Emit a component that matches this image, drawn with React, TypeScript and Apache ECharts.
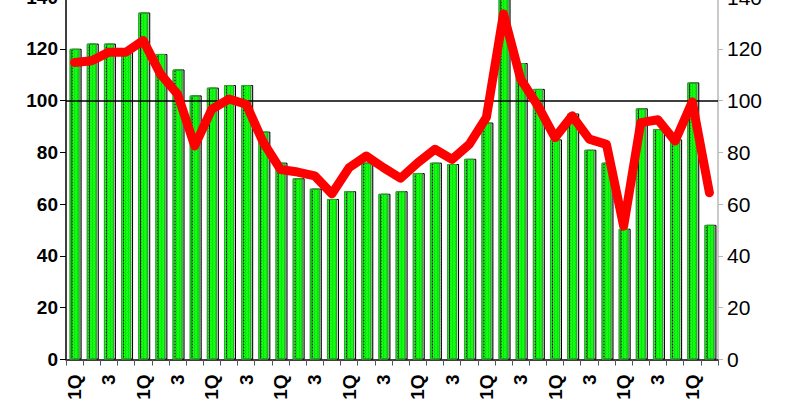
import React, { useEffect, useRef } from "react";
import * as echarts from "echarts";

const categories: string[] = Array.from({ length: 38 }, (_, i) =>
  i % 4 === 0 ? "1Q" : i % 4 === 2 ? "3" : ""
);

const barValues: number[] = [
  120, 122, 122, 119, 134, 118, 112, 102, 105, 106,
  106, 88, 76, 70, 66, 62, 65, 76, 64, 65,
  72, 76, 75.5, 77.5, 91.5, 141, 114.5, 104.5, 85, 95,
  81, 76, 50.5, 97, 89, 85, 107, 52,
];

const lineValues: number[] = [
  114.7, 115.4, 118.7, 118.7, 123.2, 110.3, 102.5, 82.5, 96.7, 100.6,
  98.6, 83.8, 73.4, 72.4, 70.9, 64, 74.1, 78.6, 74.1, 70,
  76, 81.2, 77.3, 83.1, 93.5, 133.5, 108.3, 98, 85.7, 94.1,
  85.1, 83.1, 51.5, 91.5, 92.6, 84.4, 99.5, 64.4,
];

const referenceLevel = 100;

export default function App() {
  const ref = useRef<HTMLDivElement>(null);

  useEffect(() => {
    if (!ref.current) return;
    const chart = echarts.init(ref.current, null, { renderer: "svg" });
    const font = "'Liberation Sans', Arial, sans-serif";
    chart.setOption({
      animation: false,
      backgroundColor: "#ffffff",
      grid: {
        left: 66,
        right: 82,
        top: -3,
        bottom: 40.5,
        containLabel: false,
        outerBoundsMode: "none",
      },
      xAxis: {
        type: "category",
        data: categories,
        boundaryGap: true,
        axisLine: { show: true, lineStyle: { color: "#000", width: 1.5 } },
        axisTick: { show: true, interval: 0, length: 6, lineStyle: { color: "#555" } },
        axisLabel: {
          interval: 0,
          rotate: 90,
          margin: 15,
          color: "#000",
          fontFamily: font,
          fontWeight: "bold",
          fontSize: 19,
        },
      },
      yAxis: [
        {
          type: "value",
          min: 0,
          max: 140,
          interval: 20,
          position: "left",
          axisLine: { show: true, lineStyle: { color: "#000", width: 1.5 } },
          axisTick: { show: true, length: 6, lineStyle: { color: "#000" } },
          splitLine: { show: false },
          axisLabel: {
            margin: 8,
            color: "#000",
            fontFamily: font,
            fontWeight: "bold",
            fontSize: 19,
          },
        },
        {
          type: "value",
          min: 0,
          max: 140,
          interval: 20,
          position: "right",
          axisLine: { show: true, lineStyle: { color: "#b8b8b8", width: 1.5 } },
          axisTick: { show: true, length: 5, lineStyle: { color: "#b8b8b8" } },
          splitLine: { show: false },
          axisLabel: {
            margin: 9,
            color: "#000",
            fontFamily: "'Liberation Sans Narrow', 'Liberation Sans', Arial, sans-serif",
            fontSize: 21,
          },
        },
      ],
      series: [
        {
          type: "bar",
          data: barValues,
          barWidth: 10,
          itemStyle: {
            color: "#00ff00",
            borderColor: "#2ea82e",
            borderWidth: 1,
            shadowColor: "rgba(0,0,0,0.18)",
            shadowOffsetX: 2,
            shadowOffsetY: 0,
            shadowBlur: 0,
            decal: {
              symbol: "rect",
              symbolSize: 0.5,
              dashArrayX: [2, 1],
              dashArrayY: [2, 1],
              color: "rgba(255,255,255,0.4)",
            },
          },
          markLine: {
            silent: true,
            symbol: "none",
            label: { show: false },
            lineStyle: { color: "#000", width: 1.5, type: "solid" },
            data: [{ yAxis: referenceLevel }],
          },
          z: 2,
        },
        {
          type: "line",
          data: lineValues,
          symbol: "none",
          lineStyle: { color: "#ff0000", width: 9, join: "round", cap: "round" },
          z: 5,
        },
      ],
    });
    return () => chart.dispose();
  }, []);

  return (
    <div
      ref={ref}
      style={{ position: "fixed", left: 0, top: 0, width: 800, height: 400 }}
    />
  );
}
